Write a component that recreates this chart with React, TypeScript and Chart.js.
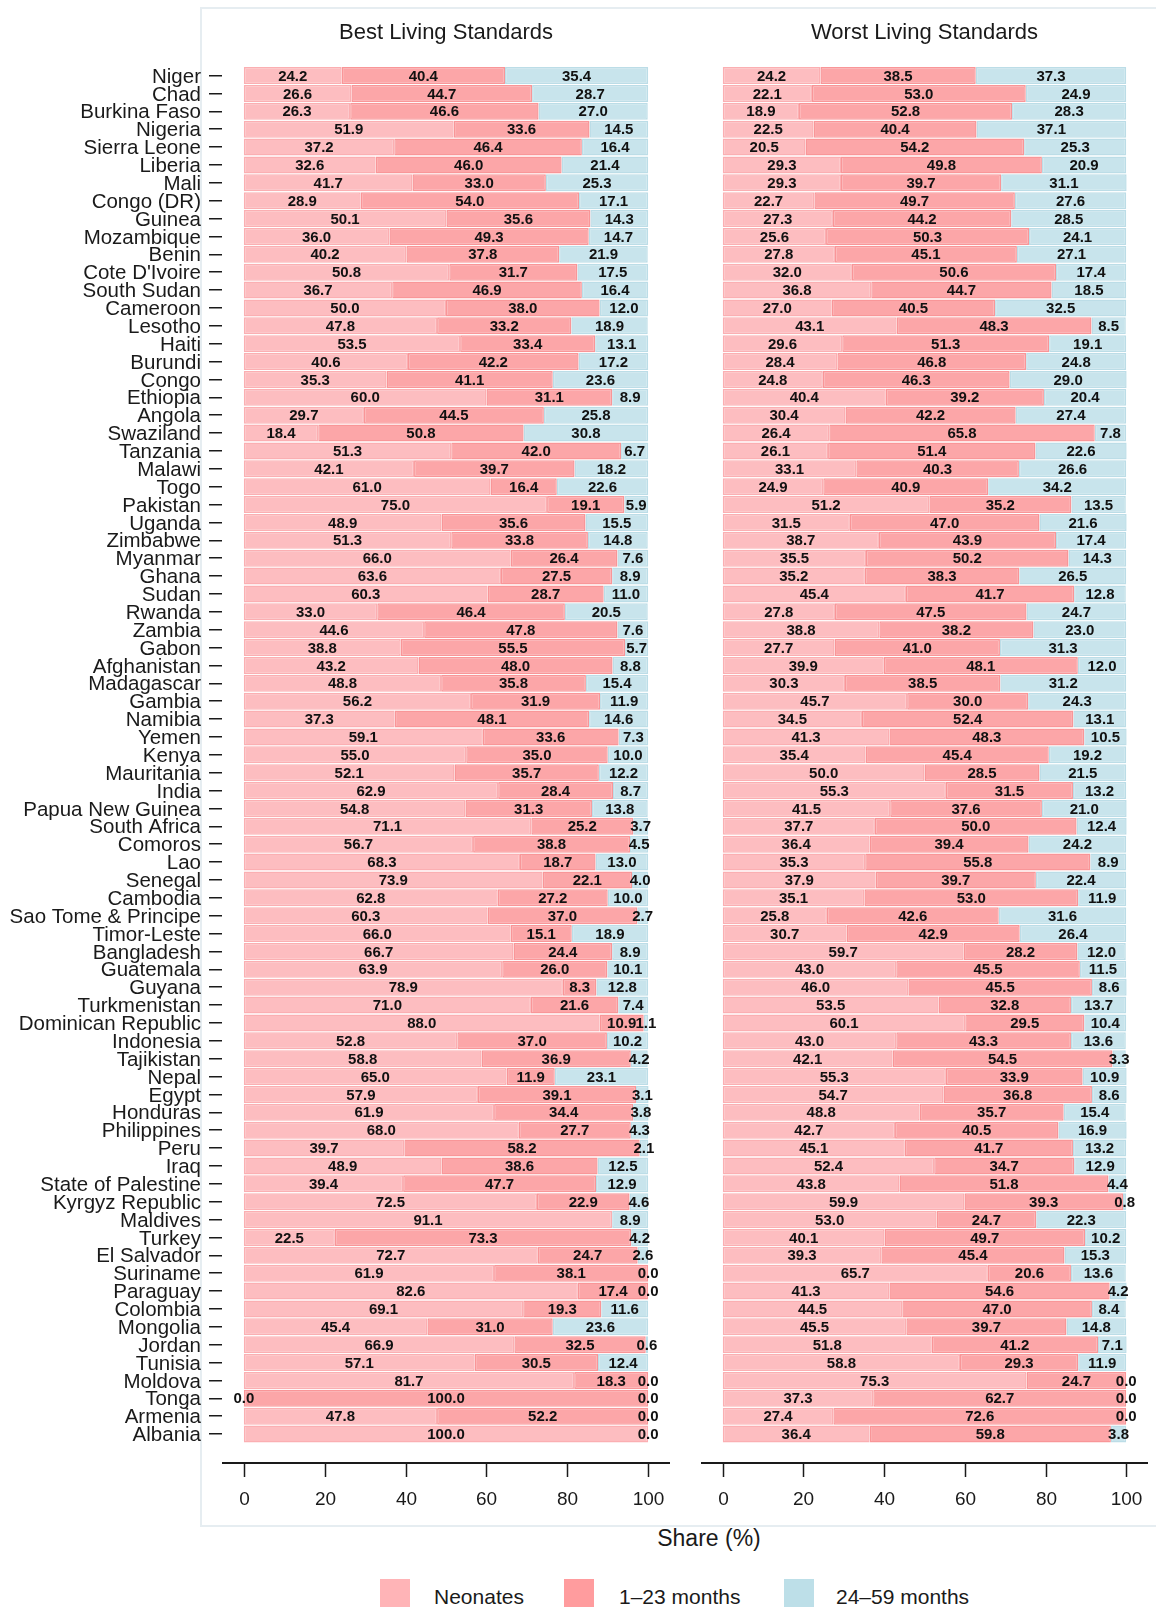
import React, { useEffect, useRef } from 'react';
import { Chart, registerables } from 'chart.js';

Chart.register(...registerables);

const countries = [
  'Niger', 'Chad', 'Burkina Faso', 'Nigeria', 'Sierra Leone', 'Liberia', 'Mali', 'Congo (DR)', 'Guinea', 'Mozambique',
  'Benin', "Cote D'Ivoire", 'South Sudan', 'Cameroon', 'Lesotho', 'Haiti', 'Burundi', 'Congo', 'Ethiopia', 'Angola',
  'Swaziland', 'Tanzania', 'Malawi', 'Togo', 'Pakistan', 'Uganda', 'Zimbabwe', 'Myanmar', 'Ghana', 'Sudan',
  'Rwanda', 'Zambia', 'Gabon', 'Afghanistan', 'Madagascar', 'Gambia', 'Namibia', 'Yemen', 'Kenya', 'Mauritania',
  'India', 'Papua New Guinea', 'South Africa', 'Comoros', 'Lao', 'Senegal', 'Cambodia', 'Sao Tome & Principe', 'Timor-Leste', 'Bangladesh',
  'Guatemala', 'Guyana', 'Turkmenistan', 'Dominican Republic', 'Indonesia', 'Tajikistan', 'Nepal', 'Egypt', 'Honduras', 'Philippines',
  'Peru', 'Iraq', 'State of Palestine', 'Kyrgyz Republic', 'Maldives', 'Turkey', 'El Salvador', 'Suriname', 'Paraguay', 'Colombia',
  'Mongolia', 'Jordan', 'Tunisia', 'Moldova', 'Tonga', 'Armenia', 'Albania',
];

const bestNeonates = [
  24.2, 26.6, 26.3, 51.9, 37.2, 32.6, 41.7, 28.9, 50.1, 36.0,
  40.2, 50.8, 36.7, 50.0, 47.8, 53.5, 40.6, 35.3, 60.0, 29.7,
  18.4, 51.3, 42.1, 61.0, 75.0, 48.9, 51.3, 66.0, 63.6, 60.3,
  33.0, 44.6, 38.8, 43.2, 48.8, 56.2, 37.3, 59.1, 55.0, 52.1,
  62.9, 54.8, 71.1, 56.7, 68.3, 73.9, 62.8, 60.3, 66.0, 66.7,
  63.9, 78.9, 71.0, 88.0, 52.8, 58.8, 65.0, 57.9, 61.9, 68.0,
  39.7, 48.9, 39.4, 72.5, 91.1, 22.5, 72.7, 61.9, 82.6, 69.1,
  45.4, 66.9, 57.1, 81.7, 0.0, 47.8, 100.0,
];
const best1to23 = [
  40.4, 44.7, 46.6, 33.6, 46.4, 46.0, 33.0, 54.0, 35.6, 49.3,
  37.8, 31.7, 46.9, 38.0, 33.2, 33.4, 42.2, 41.1, 31.1, 44.5,
  50.8, 42.0, 39.7, 16.4, 19.1, 35.6, 33.8, 26.4, 27.5, 28.7,
  46.4, 47.8, 55.5, 48.0, 35.8, 31.9, 48.1, 33.6, 35.0, 35.7,
  28.4, 31.3, 25.2, 38.8, 18.7, 22.1, 27.2, 37.0, 15.1, 24.4,
  26.0, 8.3, 21.6, 10.9, 37.0, 36.9, 11.9, 39.1, 34.4, 27.7,
  58.2, 38.6, 47.7, 22.9, null, 73.3, 24.7, 38.1, 17.4, 19.3,
  31.0, 32.5, 30.5, 18.3, 100.0, 52.2, null,
];
const best24to59 = [
  35.4, 28.7, 27.0, 14.5, 16.4, 21.4, 25.3, 17.1, 14.3, 14.7,
  21.9, 17.5, 16.4, 12.0, 18.9, 13.1, 17.2, 23.6, 8.9, 25.8,
  30.8, 6.7, 18.2, 22.6, 5.9, 15.5, 14.8, 7.6, 8.9, 11.0,
  20.5, 7.6, 5.7, 8.8, 15.4, 11.9, 14.6, 7.3, 10.0, 12.2,
  8.7, 13.8, 3.7, 4.5, 13.0, 4.0, 10.0, 2.7, 18.9, 8.9,
  10.1, 12.8, 7.4, 1.1, 10.2, 4.2, 23.1, 3.1, 3.8, 4.3,
  2.1, 12.5, 12.9, 4.6, 8.9, 4.2, 2.6, 0.0, 0.0, 11.6,
  23.6, 0.6, 12.4, 0.0, 0.0, 0.0, 0.0,
];

const worstNeonates = [
  24.2, 22.1, 18.9, 22.5, 20.5, 29.3, 29.3, 22.7, 27.3, 25.6,
  27.8, 32.0, 36.8, 27.0, 43.1, 29.6, 28.4, 24.8, 40.4, 30.4,
  26.4, 26.1, 33.1, 24.9, 51.2, 31.5, 38.7, 35.5, 35.2, 45.4,
  27.8, 38.8, 27.7, 39.9, 30.3, 45.7, 34.5, 41.3, 35.4, 50.0,
  55.3, 41.5, 37.7, 36.4, 35.3, 37.9, 35.1, 25.8, 30.7, 59.7,
  43.0, 46.0, 53.5, 60.1, 43.0, 42.1, 55.3, 54.7, 48.8, 42.7,
  45.1, 52.4, 43.8, 59.9, 53.0, 40.1, 39.3, 65.7, 41.3, 44.5,
  45.5, 51.8, 58.8, 75.3, 37.3, 27.4, 36.4,
];
const worst1to23 = [
  38.5, 53.0, 52.8, 40.4, 54.2, 49.8, 39.7, 49.7, 44.2, 50.3,
  45.1, 50.6, 44.7, 40.5, 48.3, 51.3, 46.8, 46.3, 39.2, 42.2,
  65.8, 51.4, 40.3, 40.9, 35.2, 47.0, 43.9, 50.2, 38.3, 41.7,
  47.5, 38.2, 41.0, 48.1, 38.5, 30.0, 52.4, 48.3, 45.4, 28.5,
  31.5, 37.6, 50.0, 39.4, 55.8, 39.7, 53.0, 42.6, 42.9, 28.2,
  45.5, 45.5, 32.8, 29.5, 43.3, 54.5, 33.9, 36.8, 35.7, 40.5,
  41.7, 34.7, 51.8, 39.3, 24.7, 49.7, 45.4, 20.6, 54.6, 47.0,
  39.7, 41.2, 29.3, 24.7, 62.7, 72.6, 59.8,
];
const worst24to59 = [
  37.3, 24.9, 28.3, 37.1, 25.3, 20.9, 31.1, 27.6, 28.5, 24.1,
  27.1, 17.4, 18.5, 32.5, 8.5, 19.1, 24.8, 29.0, 20.4, 27.4,
  7.8, 22.6, 26.6, 34.2, 13.5, 21.6, 17.4, 14.3, 26.5, 12.8,
  24.7, 23.0, 31.3, 12.0, 31.2, 24.3, 13.1, 10.5, 19.2, 21.5,
  13.2, 21.0, 12.4, 24.2, 8.9, 22.4, 11.9, 31.6, 26.4, 12.0,
  11.5, 8.6, 13.7, 10.4, 13.6, 3.3, 10.9, 8.6, 15.4, 16.9,
  13.2, 12.9, 4.4, 0.8, 22.3, 10.2, 15.3, 13.6, 4.2, 8.4,
  14.8, 7.1, 11.9, 0.0, 0.0, 0.0, 3.8,
];

const seriesNames = ['Neonates', '1\u201323 months', '24\u201359 months'];
const panelTitles = ['Best Living Standards', 'Worst Living Standards'];
const xTicks = [0, 20, 40, 60, 80, 100];
const xAxisTitle = 'Share (%)';

const FILL = ['#FDBDC0', '#FCA6A8', '#C8E4EC'];
const BORDER = ['#FBAFB2', '#F99698', '#BCDDE7'];
const LEGEND = ['#FFB4B7', '#FF9C9E', '#BDDFE8'];
const FONT = '"Liberation Sans", Arial, Helvetica, sans-serif';
const TEXT = '#1a1a1a';

const segLabels = {
  id: 'segLabels',
  afterDatasetsDraw(chart: any) {
    const ctx = chart.ctx;
    ctx.save();
    ctx.font = `bold 15px ${FONT}`;
    ctx.fillStyle = '#111';
    ctx.textAlign = 'center';
    ctx.textBaseline = 'middle';
    chart.data.datasets.forEach((ds: any, di: number) => {
      const meta = chart.getDatasetMeta(di);
      meta.data.forEach((el: any, i: number) => {
        const v = ds.data[i];
        if (v === null || v === undefined) return;
        const p = el.getProps(['x', 'base', 'y'], true);
        ctx.fillText(Number(v).toFixed(1), (p.x + p.base) / 2, p.y + 1);
      });
    });
    ctx.restore();
  },
};

const offsetAxis = {
  id: 'offsetAxis',
  afterDraw(chart: any, _args: any, opts: any) {
    const { ctx, chartArea } = chart;
    const xs = chart.scales.x;
    const yLine = chartArea.bottom + 20;
    ctx.save();
    ctx.strokeStyle = TEXT;
    ctx.lineWidth = 2;
    ctx.beginPath();
    ctx.moveTo(chartArea.left, yLine);
    ctx.lineTo(chartArea.right, yLine);
    ctx.stroke();
    ctx.lineWidth = 1.5;
    ctx.fillStyle = TEXT;
    ctx.font = `19px ${FONT}`;
    ctx.textAlign = 'center';
    ctx.textBaseline = 'middle';
    xTicks.forEach((v) => {
      const px = Math.round(xs.getPixelForValue(v)) + 0.5;
      ctx.beginPath();
      ctx.moveTo(px, yLine);
      ctx.lineTo(px, yLine + 14);
      ctx.stroke();
      ctx.fillText(String(v), px, yLine + 37);
    });
    ctx.font = `22px ${FONT}`;
    ctx.fillText(opts.title || '', (chartArea.left + chartArea.right) / 2, 33);
    ctx.restore();
  },
};

function makeConfig(title: string, values: (number | null)[][], showY: boolean, pad: any) {
  return {
    type: 'bar' as const,
    data: {
      labels: countries,
      datasets: values.map((arr, k) => ({
        label: seriesNames[k],
        data: arr,
        backgroundColor: FILL[k],
        borderColor: BORDER[k],
        borderWidth: (c: any) => (c.raw === 0 ? 0 : 1.5),
        borderSkipped: false,
        barPercentage: 0.95,
        categoryPercentage: 1.0,
      })),
    },
    options: {
      indexAxis: 'y' as const,
      animation: false,
      responsive: false,
      maintainAspectRatio: false,
      devicePixelRatio: 1,
      layout: { padding: pad },
      plugins: {
        legend: { display: false },
        tooltip: { enabled: false },
        title: { display: false },
        offsetAxis: { title },
      },
      scales: {
        x: {
          type: 'linear' as const,
          stacked: true,
          min: -5.4,
          max: 105.4,
          display: false,
        },
        y: {
          type: 'category' as const,
          stacked: true,
          offset: true,
          display: showY,
          grid: {
            display: true,
            drawOnChartArea: false,
            offset: false,
            tickLength: 13,
            color: TEXT,
            lineWidth: 1.5,
          },
          border: { display: false },
          ticks: {
            autoSkip: false,
            padding: 8,
            labelOffset: 1.5,
            color: TEXT,
            font: { family: FONT, size: 20.5 },
          },
          afterFit: showY
            ? (s: any) => {
                s.width = 222;
              }
            : undefined,
        },
      },
    },
    plugins: [segLabels, offsetAxis],
  };
}

export default function App() {
  const leftRef = useRef<HTMLCanvasElement>(null);
  const rightRef = useRef<HTMLCanvasElement>(null);

  useEffect(() => {
    const c1 = new Chart(
      leftRef.current as HTMLCanvasElement,
      makeConfig(panelTitles[0], [bestNeonates, best1to23, best24to59], true, {
        top: 66.6, bottom: 77, left: 0, right: 10,
      }) as any
    );
    const c2 = new Chart(
      rightRef.current as HTMLCanvasElement,
      makeConfig(panelTitles[1], [worstNeonates, worst1to23, worst24to59], false, {
        top: 66.6, bottom: 77, left: 21, right: 8,
      }) as any
    );
    return () => {
      c1.destroy();
      c2.destroy();
    };
  }, []);

  const legendItems = [
    { sq: 380, tx: 434 },
    { sq: 564, tx: 619 },
    { sq: 784, tx: 836 },
  ];

  return (
    <div
      style={{
        position: 'absolute',
        left: 0,
        top: 0,
        width: 1156,
        height: 1607,
        overflow: 'hidden',
        background: '#ffffff',
        fontFamily: FONT,
      }}
    >
      <div
        style={{
          position: 'absolute',
          left: 200,
          top: 7,
          width: 1000,
          height: 1520,
          border: '2px solid #E6EDF1',
          boxSizing: 'border-box',
        }}
      />
      <canvas
        ref={leftRef}
        width={680}
        height={1520}
        style={{ position: 'absolute', left: 0, top: 0, width: 680, height: 1520 }}
      />
      <canvas
        ref={rightRef}
        width={476}
        height={1520}
        style={{ position: 'absolute', left: 680, top: 0, width: 476, height: 1520 }}
      />
      <div
        style={{
          position: 'absolute',
          left: 559,
          width: 300,
          top: 1527,
          textAlign: 'center',
          fontSize: 23,
          lineHeight: '23px',
          color: TEXT,
        }}
      >
        {xAxisTitle}
      </div>
      {legendItems.map((it, k) => (
        <React.Fragment key={k}>
          <div
            style={{
              position: 'absolute',
              left: it.sq,
              top: 1579,
              width: 30,
              height: 30,
              background: LEGEND[k],
            }}
          />
          <div
            style={{
              position: 'absolute',
              left: it.tx,
              top: 1586,
              fontSize: 21,
              lineHeight: '21px',
              color: TEXT,
              whiteSpace: 'nowrap',
            }}
          >
            {seriesNames[k]}
          </div>
        </React.Fragment>
      ))}
    </div>
  );
}
